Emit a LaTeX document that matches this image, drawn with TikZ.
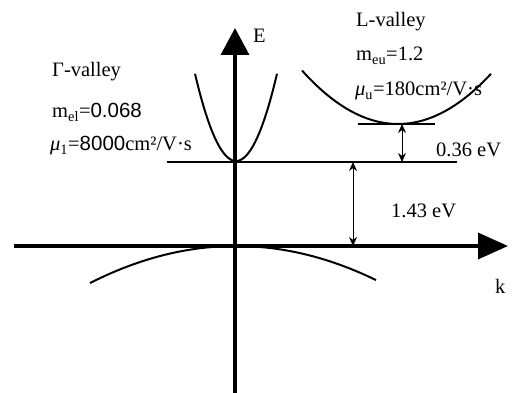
\documentclass[tikz,border=0pt]{standalone}
\usepackage{fontspec}
\setmainfont{Liberation Serif}
\newfontfamily\sansdig{Liberation Sans}
\usetikzlibrary{arrows.meta}
\begin{document}
\begin{tikzpicture}[x=1pt,y=-1pt,
  lbl/.style={inner sep=0pt,anchor=base west,font=\fontsize{20.5}{24}\selectfont},
  axis/.style={line width=3.5pt},
  band/.style={line width=2pt},
  level/.style={line width=1.4pt},
  gap/.style={line width=0.8pt,{Stealth[length=9pt,width=8pt]}-{Stealth[length=9pt,width=8pt]}}]
\useasboundingbox (0,0) rectangle (517,393);
% axes
\coordinate (ybot) at (235,393);
\coordinate (ytop) at (235,28);
\coordinate (xl) at (14,246);
\coordinate (xr) at (508,246);
\draw[axis,-{Triangle[length=27pt,width=28pt]}] (ybot) -- (ytop);
\draw[axis,-{Triangle[length=30pt,width=26pt]}] (xl) -- (xr);
% Gamma valley
\draw[band,domain=-41:41,samples=60] plot ({236+\x},{161-(0.2278*\x)*(0.2278*\x)});
\coordinate (gl) at (167,162);
\coordinate (gr) at (457,162);
\draw[level] (gl) -- (gr);
% L valley
\draw[band,domain=-96:93,samples=80] plot ({398+\x},{124-(0.0762*\x)*(0.0762*\x)});
\coordinate (ll) at (358,124);
\coordinate (lr) at (435,124);
\draw[level] (ll) -- (lr);
% valence band
\draw[band,domain=-146:140,samples=80] plot ({236+\x},{246+(0.0417*\x)*(0.0417*\x)});
% gaps
\coordinate (a1) at (402,124);
\coordinate (a2) at (402,162);
\draw[gap] (a1) -- (a2);
\coordinate (b1) at (353,162);
\coordinate (b2) at (353,246);
\draw[gap] (b1) -- (b2);
% labels
\node[lbl] (E) at (253,43) {E};
\node[lbl] (k) at (495,293) {k};
\node[lbl] (gv) at (52,77) {Γ-valley};
\node[lbl] (gm) at (52,118) {m\textsubscript{el}={\sansdig 0.068}};
\node[lbl] (gmu) at (50,151) {{\itshape μ}\textsubscript{1}={\sansdig 8000}cm²/V·s};
\node[lbl] (lv) at (356,27) {L-valley};
\node[lbl] (lm) at (356,61) {m\textsubscript{eu}=1.2};
\node[lbl] (lmu) at (355,96) {{\itshape μ}\textsubscript{u}=180cm²/V·s};
\node[lbl] (e36) at (436,157) {0.36 eV};
\node[lbl] (e143) at (391,217) {1.43 eV};
\end{tikzpicture}
\end{document}
